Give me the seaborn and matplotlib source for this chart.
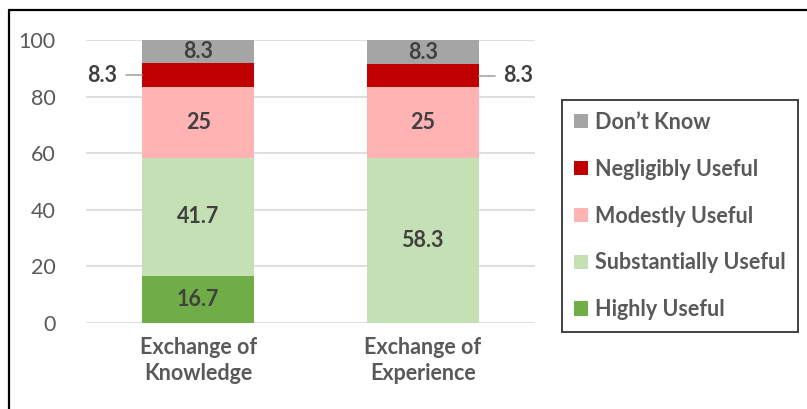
import matplotlib
matplotlib.use("Agg")
import matplotlib.pyplot as plt
import seaborn as sns
import numpy as np
from matplotlib.lines import Line2D

# data
categories = ["Exchange of\nKnowledge", "Exchange of\nExperience"]
series = ["Highly Useful", "Substantially Useful", "Modestly Useful", "Negligibly Useful", "Don\u2019t Know"]
highly = [16.7, 0]
substantially = [41.7, 58.3]
modestly = [25, 25]
negligibly = [8.3, 8.3]
dont_know = [8.3, 8.3]
colors = ["#70AD47", "#C5E0B4", "#FFB3B3", "#C00000", "#A5A5A5"]
yticks = [0, 20, 40, 60, 80, 100]

values = np.array([highly, substantially, modestly, negligibly, dont_know])
tops = values.cumsum(axis=0)
bottoms = tops - values

sns.set_style("white")
plt.rcParams["font.family"] = ["Lato", "DejaVu Sans"]
FS = 15.5

fig = plt.figure(figsize=(8.07, 4.09), dpi=100)
ax = fig.add_axes([86 / 807, 1 - 323 / 409, 449 / 807, 283 / 409])

# stacked bars: draw cumulative totals from top series down
for i in range(len(series) - 1, -1, -1):
    sns.barplot(x=categories, y=tops[i], color=colors[i], width=0.5,
                saturation=1, label=series[i], ax=ax, zorder=2, linewidth=0)

# labels inside segments
for i in range(len(series)):
    for j in range(len(categories)):
        v = values[i, j]
        if v <= 0 or i == 3:
            continue
        ax.text(j, bottoms[i, j] + v / 2, f"{v:g}", ha="center", va="center",
                fontsize=FS, fontweight="bold", color="#404040", zorder=3)

# outside labels for the negligibly useful segment
for j, side in enumerate([-1, 1]):
    y = bottoms[3, j] + values[3, j] / 2
    edge = j + side * 0.25
    ax.plot([edge, edge + side * 0.07], [y, y], color="#A6A6A6", lw=1.2,
            clip_on=False, zorder=3)
    ax.text(edge + side * 0.11, y, f"{values[3, j]:g}", ha="right" if side < 0 else "left",
            va="center", fontsize=FS, fontweight="bold", color="#404040")

ax.set_ylim(0, 100)
ax.set_xlim(-0.5, 1.5)
ax.set_yticks(yticks)
ax.yaxis.grid(True, color="#D9D9D9", lw=1.2, zorder=0)
ax.set_axisbelow(True)
ax.tick_params(axis="y", labelsize=FS, labelcolor="#595959", length=0, pad=22)
ax.tick_params(axis="x", labelsize=FS, labelcolor="#595959", length=0, pad=10)
for lbl in ax.get_xticklabels():
    lbl.set_fontweight("bold")
    lbl.set_linespacing(1.3)
for s in ax.spines.values():
    s.set_visible(False)
ax.set_xlabel("")
ax.set_ylabel("")

handles, labels = ax.get_legend_handles_labels()
if ax.legend_:
    ax.legend_.remove()
leg = fig.legend(handles, labels, loc="upper left",
                 bbox_to_anchor=(562 / 807, 1 - 100 / 409), frameon=True,
                 fancybox=False, edgecolor="black", handlelength=0.65,
                 handleheight=0.65, handletextpad=0.35, labelspacing=1.2,
                 borderpad=0.55, borderaxespad=0,
                 prop={"size": FS, "weight": "bold"})
leg.get_frame().set_linewidth(1.3)
for t in leg.get_texts():
    t.set_color("#595959")

# outer border (top and left visible)
fig.add_artist(Line2D([9 / 807, 1], [1 - 10 / 409, 1 - 10 / 409], color="black", lw=1.6))
fig.add_artist(Line2D([9 / 807, 9 / 807], [0, 1 - 10 / 409], color="black", lw=1.6))

fig.savefig("out.png", dpi=100)
